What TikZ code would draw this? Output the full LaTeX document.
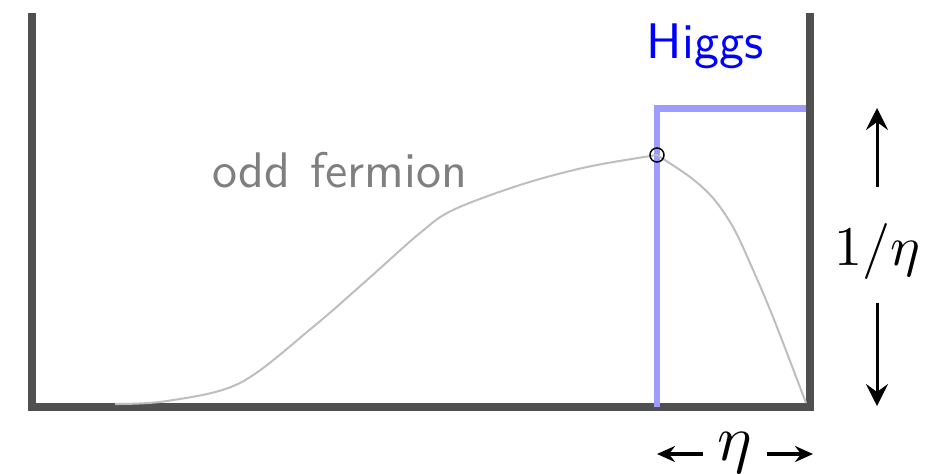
\documentclass[tikz,border=0pt]{standalone}
\usetikzlibrary{arrows.meta}
\definecolor{wallgray}{HTML}{505050}
\definecolor{curvegray}{HTML}{BEBEBE}
\definecolor{textgray}{HTML}{7F7F7F}
\definecolor{higgsblue}{HTML}{9C9CFF}
\tikzset{
  wall/.style={draw=wallgray, line width=8pt},
  higgsline/.style={draw=higgsblue, line width=6.5pt},
  wavefn/.style={draw=curvegray, line width=2pt},
  scalearrow/.style={draw=black, line width=3pt, -{Stealth[length=22pt,width=22pt,inset=8pt]}},
  etaarrow/.style={draw=black, line width=3.5pt, -{Stealth[length=18pt,width=16pt,inset=6pt]}},
  lbl/.style={inner sep=0pt, anchor=base},
}
\begin{document}
\begin{tikzpicture}[x=1pt,y=-1pt]
\useasboundingbox (0,0) rectangle (927,474);
% walls
\coordinate (tl) at (31.5,13);
\coordinate (bl) at (31.5,407);
\coordinate (br) at (810,407);
\coordinate (tr) at (810,13);
\draw[wall] (tl) -- (bl) -- (br) -- (tr);
% Higgs profile
\coordinate (hb) at (657,407);
\coordinate (hc) at (657,108.5);
\coordinate (hr) at (806,108.5);
\draw[higgsline] (hb) -- (hc) -- (hr);
% odd fermion profile
\draw[wavefn] plot[smooth, tension=0.55] coordinates {(115,404) (167,401) (240,383) (313,327) (367,280) (420,233) (453,210) (520,185) (587,167) (657,155)};
\draw[wavefn] plot[smooth, tension=0.55] coordinates {(657,155) (690,177) (713,198) (733,227) (750,263) (773,317) (806,403)};
\node[draw=black, line width=1.5pt, circle, minimum size=14pt, inner sep=0pt] (peak) at (657,155) {};
% labels
\node[lbl, text=blue, font=\sffamily, scale=5.0] (higgs) at (705,58) {Higgs};
\node[lbl, text=textgray, font=\sffamily, scale=5.0] (odd) at (340,187) {odd\hspace{0.6pt} fermion};
\node[lbl, scale=5.6] (inv) at (877,265) {$1/\eta$};
\node[lbl, scale=6.5] (eta) at (735,460) {$\eta$};
% scale arrows
\coordinate (upS) at (877,187);
\coordinate (upE) at (877,108);
\coordinate (dnS) at (877,303);
\coordinate (dnE) at (877,406);
\draw[scalearrow] (upS) -- (upE);
\draw[scalearrow] (dnS) -- (dnE);
\coordinate (lS) at (703,454);
\coordinate (lE) at (657,454);
\coordinate (rS) at (767,454);
\coordinate (rE) at (813,454);
\draw[etaarrow] (lS) -- (lE);
\draw[etaarrow] (rS) -- (rE);
\end{tikzpicture}
\end{document}
